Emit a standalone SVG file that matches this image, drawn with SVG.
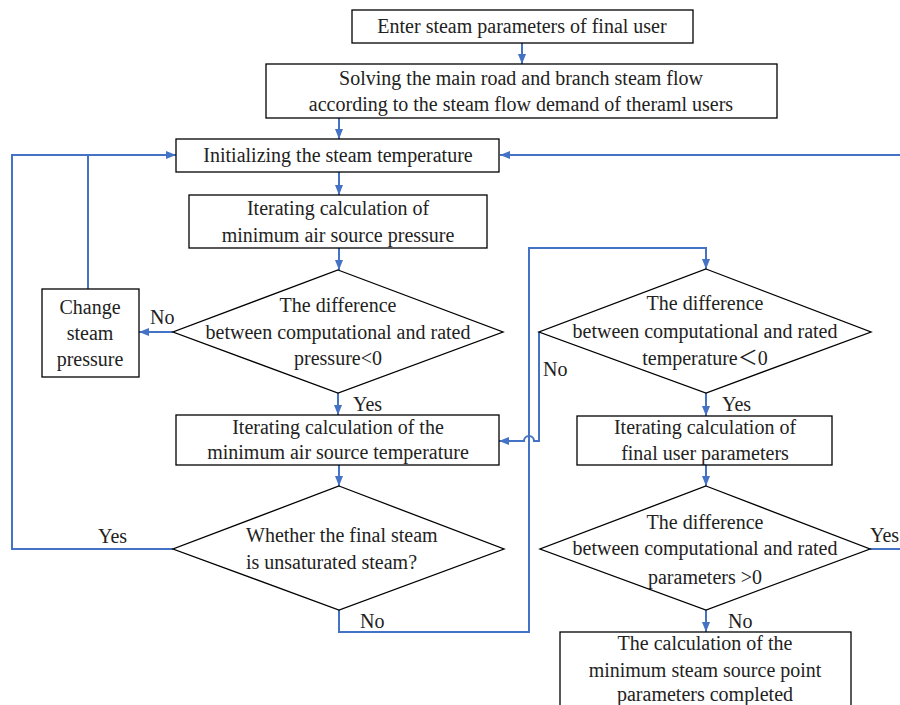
<svg xmlns="http://www.w3.org/2000/svg" width="900" height="705" viewBox="0 0 900 705" font-family="Liberation Serif, Times New Roman, DejaVu Serif, Noto Sans CJK SC, serif">
<style>
.box{fill:#fff;stroke:#000;stroke-width:1.3}
text{font-size:20px;fill:#222}
.t{text-anchor:middle}
.c{fill:none;stroke:#4472C4;stroke-width:2}
</style>
<defs>
<marker id="ah" viewBox="0 0 10 10" refX="10" refY="5" markerWidth="10" markerHeight="10" markerUnits="userSpaceOnUse" orient="auto">
<path d="M0,1 L10,5 L0,9 Z" fill="#4472C4"/>
</marker>
</defs>
<rect width="900" height="705" fill="#fff"/>
<g id="connectors">
<path class="c" d="M522,43 V64" marker-end="url(#ah)"/>
<path class="c" d="M339,118 V139" marker-end="url(#ah)"/>
<path class="c" d="M339,172 V195" marker-end="url(#ah)"/>
<path class="c" d="M339,248 V270" marker-end="url(#ah)"/>
<path class="c" d="M173,332 H139" marker-end="url(#ah)"/>
<path class="c" d="M88,289 V155 H176" marker-end="url(#ah)"/>
<path class="c" d="M338,393 V415" marker-end="url(#ah)"/>
<path class="c" d="M339,465 V486" marker-end="url(#ah)"/>
<path class="c" d="M173,549 H12 V155 H88"/>
<path class="c" d="M339,610 V632 H529 V248 H706 V269" marker-end="url(#ah)"/>
<path class="c" d="M539,332 V441 H534 A5,5 0 0 0 524,441 H499" marker-end="url(#ah)"/>
<path class="c" d="M706,393 V416" marker-end="url(#ah)"/>
<path class="c" d="M706,465 V486" marker-end="url(#ah)"/>
<path class="c" d="M706,610 V632" marker-end="url(#ah)"/>
<path class="c" d="M870,549 H905"/>
<path class="c" d="M905,155 H500" marker-end="url(#ah)"/>
</g>
<g id="n1"><rect class="box" x="352" y="10" width="341" height="33"/><text class="t" x="522" y="33">Enter steam parameters of final user</text></g>
<g id="n2"><rect class="box" x="266" y="64" width="511" height="54"/><text class="t" x="521" y="85">Solving the main road and branch steam flow</text><text class="t" x="521" y="111">according to the steam flow demand of theraml users</text></g>
<g id="n3"><rect class="box" x="176" y="139" width="323" height="33"/><text class="t" x="338" y="162">Initializing the steam temperature</text></g>
<g id="n4"><rect class="box" x="189" y="195" width="298" height="53"/><text class="t" x="338" y="215">Iterating calculation of</text><text class="t" x="338" y="242">minimum air source pressure</text></g>
<g id="n5"><polygon class="box" points="338,270 503,332 338,393 173,332"/><text class="t" x="338" y="312">The difference</text><text class="t" x="338" y="339">between computational and rated</text><text class="t" x="338" y="365">pressure&lt;0</text><text x="150" y="324">No</text><text x="353" y="411">Yes</text></g>
<g id="n6"><rect class="box" x="42" y="289" width="97" height="88"/><text class="t" x="90" y="314">Change</text><text class="t" x="90" y="340">steam</text><text class="t" x="90" y="366">pressure</text></g>
<g id="n7"><rect class="box" x="176" y="415" width="323" height="50"/><text class="t" x="338" y="434">Iterating calculation of the</text><text class="t" x="338" y="459">minimum air source temperature</text></g>
<g id="n8"><polygon class="box" points="339,486 504,549 339,610 173,549"/><text x="246" y="542">Whether the final steam</text><text x="246" y="569">is unsaturated steam?</text><text x="98" y="543">Yes</text><text x="360" y="628">No</text></g>
<g id="n9"><polygon class="box" points="706,269 871,332 706,393 539,332"/><text class="t" x="705" y="310">The difference</text><text class="t" x="705" y="338">between computational and rated</text><text class="t" x="705" y="365">temperature＜0</text><text x="543" y="376">No</text><text x="722" y="411">Yes</text></g>
<g id="n10"><rect class="box" x="577" y="416" width="255" height="49"/><text class="t" x="705" y="434">Iterating calculation of</text><text class="t" x="705" y="460">final user parameters</text></g>
<g id="n11"><polygon class="box" points="706,486 870,549 706,610 540,549"/><text class="t" x="705" y="529">The difference</text><text class="t" x="705" y="555">between computational and rated</text><text class="t" x="705" y="584">parameters &gt;0</text><text x="870" y="542">Yes</text><text x="728" y="628">No</text></g>
<g id="n12"><rect class="box" x="560" y="632" width="291" height="80"/><text class="t" x="705" y="650">The calculation of the</text><text class="t" x="705" y="677">minimum steam source point</text><text class="t" x="705" y="701">parameters completed</text></g>
</svg>
